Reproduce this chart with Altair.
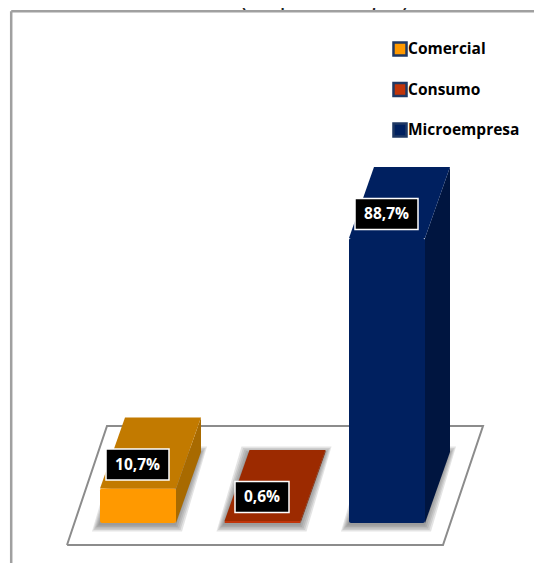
import altair as alt
import pandas as pd

# ---- values ----
categories = ["Comercial", "Consumo", "Microempresa"]
values = [10.7, 0.6, 88.7]
labels = ["10,7%", "0,6%", "88,7%"]
title_text = "(en porcentajes)"

front_colors = ["#FF9900", "#C0350A", "#00205F"]
top_colors = ["#C27A00", "#9C2A00", "#002060"]
side_colors = ["#A86A00", "#7E2400", "#001540"]

# ---- layout: 1 category step = 124.5 px, 1 percentage point = 3.213 px ----
W, H = 526, 555
STEP = 124.5
UNIT = 3.213
X0_PAGE, Y0_PAGE = 100, 523          # where category 0, value 0 sits on the page


def xu(px):
    return (px - X0_PAGE) / STEP


def yu(py):
    return (Y0_PAGE - py) / UNIT


BAR_W = 76 / STEP
DX = 25 / STEP
DY = 71 / UNIT

x_scale = alt.Scale(domain=[xu(8), xu(8 + W)], range=[0, W], nice=False, zero=False)
y_scale = alt.Scale(domain=[yu(8 + H), yu(8)], range=[H, 0], nice=False, zero=False)
X = lambda f: alt.X(f, type="quantitative", scale=x_scale, axis=None)
Y = lambda f: alt.Y(f, type="quantitative", scale=y_scale, axis=None)

# floor
floor_pts = [(67, 545), (443, 545), (483, 426), (107, 426), (67, 545)]
floor_line = pd.DataFrame(
    [{"i": i, "x": xu(a), "y": yu(b)} for i, (a, b) in enumerate(floor_pts)]
)
floor_layer = (
    alt.Chart(floor_line)
    .mark_line(stroke="#8C8C8C", strokeWidth=2, strokeJoin="miter")
    .encode(x=X("x"), y=Y("y"), order="i:Q")
)

# faces
top_rows, side_rows, shadow_rows, front_rows, box_rows = [], [], [], [], []
box_w = [63, 54, 63]
for i, (c, v) in enumerate(zip(categories, values)):
    l = float(i)
    r = l + BAR_W
    top_rows += [
        {"cat": c, "y": v, "x": l, "x2": r, "color": top_colors[i]},
        {"cat": c, "y": v + DY, "x": l + DX, "x2": r + DX, "color": top_colors[i]},
    ]
    side_rows += [
        {"cat": c, "x": r, "y": 0, "y2": v, "color": side_colors[i]},
        {"cat": c, "x": r + DX, "y": DY, "y2": v + DY, "color": side_colors[i]},
    ]
    front_rows.append({"cat": c, "x": l, "x2": r, "y": 0, "y2": v})
    for k, grow in enumerate([7, 5.5, 4, 2.5, 1]):
        g_x, g_y = grow / STEP, grow / UNIT
        shift_x, shift_y = -1 / STEP, -1.5 / UNIT
        shadow_rows += [
            {"cat": c, "k": k, "y": DY + g_y + shift_y,
             "x": l + DX - g_x + shift_x, "x2": r + DX + g_x + shift_x},
            {"cat": c, "k": k, "y": -g_y + shift_y,
             "x": l - g_x + shift_x, "x2": r + g_x + shift_x},
        ]
    cx = l + BAR_W / 2 - 0.5 / STEP
    cy = v + 24 / UNIT
    box_rows.append({
        "cat": c, "label": labels[i], "cx": cx, "cy": cy,
        "x": cx - box_w[i] / 2 / STEP, "x2": cx + box_w[i] / 2 / STEP,
        "y": cy - 15.5 / UNIT, "y2": cy + 15.5 / UNIT,
    })

shadow_layer = (
    alt.Chart(pd.DataFrame(shadow_rows))
    .mark_area(orient="horizontal", color="#555555", opacity=0.16)
    .encode(y=Y("y"), x=X("x"), x2="x2:Q", detail=["cat:N", "k:N"])
)
side_layer = (
    alt.Chart(pd.DataFrame(side_rows))
    .mark_area(orient="vertical")
    .encode(x=X("x"), y=Y("y"), y2="y2:Q", detail="cat:N",
            color=alt.Color("color:N", scale=None))
)
top_layer = (
    alt.Chart(pd.DataFrame(top_rows))
    .mark_area(orient="horizontal")
    .encode(y=Y("y"), x=X("x"), x2="x2:Q", detail="cat:N",
            color=alt.Color("color:N", scale=None))
)
front_layer = (
    alt.Chart(pd.DataFrame(front_rows))
    .mark_rect(cornerRadius=2)
    .encode(
        x=X("x"), x2="x2:Q", y=Y("y"), y2="y2:Q",
        color=alt.Color(
            "cat:N",
            scale=alt.Scale(domain=categories, range=front_colors),
            legend=alt.Legend(
                title=None, orient="none", legendX=384, legendY=33,
                symbolType="square", symbolSize=170, symbolStrokeWidth=2.5,
                symbolStrokeColor="#1F3864", symbolOpacity=1,
                labelFont="Open Sans", labelFontWeight="bold", labelFontSize=15.5,
                labelColor="#000000", rowPadding=16.5, labelOffset=0,
                values=categories,
            ),
        ),
    )
)

boxes = pd.DataFrame(box_rows)
box_layer = (
    alt.Chart(boxes)
    .mark_rect(fill="#000000", stroke="#FFFFFF", strokeWidth=1.5)
    .encode(x=X("x"), x2="x2:Q", y=Y("y"), y2="y2:Q")
)
label_layer = (
    alt.Chart(boxes)
    .mark_text(color="#FFFFFF", font="Open Sans", fontWeight="bold", fontSize=15.5,
               baseline="middle", align="center")
    .encode(x=X("cx"), y=Y("cy"), text="label:N")
)

# white panel and its frame: the panel hides the part of the title below its edge
panel = alt.Chart(
    pd.DataFrame({"x": [xu(11.2)], "x2": [xu(542)], "y": [yu(11.2)], "y2": [yu(576)]})
)
panel_layers = [
    panel.mark_rect(fill="#FFFFFF").encode(x=X("x"), x2="x2:Q", y=Y("y"), y2="y2:Q"),
    panel.mark_rule(stroke="#A0A0A0", strokeWidth=2.5).encode(x=X("x"), y=Y("y"), y2="y2:Q"),
    panel.mark_rule(stroke="#A0A0A0", strokeWidth=2.5).encode(x=X("x"), x2="x2:Q", y=Y("y")),
]

title_layer = (
    alt.Chart(pd.DataFrame({"x": [xu(324.5)], "y": [yu(7)], "t": [title_text]}))
    .mark_text(font="Liberation Sans", fontSize=23.5, color="#222222",
               baseline="alphabetic", align="center")
    .encode(x=X("x"), y=Y("y"), text="t:N")
)

chart = (
    alt.layer(
        title_layer, *panel_layers, floor_layer, shadow_layer,
        side_layer, top_layer, front_layer, box_layer, label_layer,
    )
    .resolve_scale(color="independent")
    .properties(width=W, height=H, padding=0,
                autosize=alt.AutoSizeParams(type="none"), background="#FFFFFF")
    .configure_view(stroke=None)
)

chart.save("out.html", embed_options={"renderer": "svg", "actions": False})
